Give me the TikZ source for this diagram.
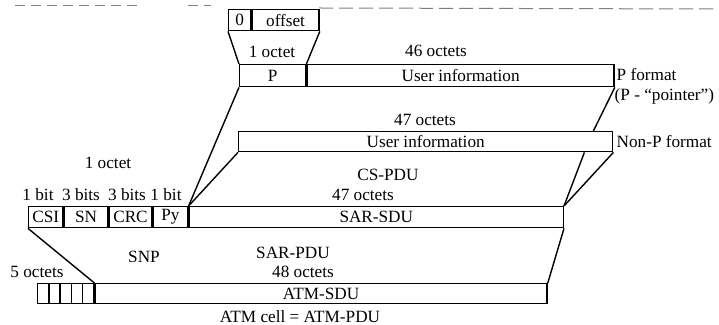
\documentclass[tikz,border=0pt]{standalone}
\usepackage{fontspec}
\setmainfont{Liberation Serif}
\tikzset{
  cell/.style={draw,inner sep=0pt,anchor=north west},
  lbl/.style={inner sep=1pt}
}
\begin{document}
\begin{tikzpicture}[x=0.5pt,y=-0.5pt,line width=0.7pt,
  every node/.style={font=\fontsize{8.6}{10}\selectfont}]
\useasboundingbox (0,0) rectangle (719,325);
% faint rule at the top of the scan
\draw[gray,line width=0.5pt,dash pattern=on 5pt off 3pt] (15,6) -- (140,6);
\draw[gray,line width=0.5pt,dash pattern=on 5pt off 3pt] (188,6) -- (211,6);
\draw[gray,line width=0.5pt,dash pattern=on 7pt off 3pt] (319,8) -- (719,9);
% pointer octet
\node[cell,minimum width=11pt,minimum height=10.5pt] (zero) at (228,9) {0};
\node[cell,minimum width=33.5pt,minimum height=10.5pt] (offset) at (zero.north east) {offset};
% P format
\node[cell,minimum width=33pt,minimum height=11pt] (p) at (239,64) {P};
\node[cell,minimum width=153.5pt,minimum height=11pt] (uinfo) at (p.north east) {User information};
% Non-P format
\node[cell,minimum width=187pt,minimum height=10pt] (nonp) at (238,131) {User information};
% SAR-PDU
\node[cell,minimum width=17pt,minimum height=10.5pt] (csi) at (28,206) {CSI};
\node[cell,minimum width=22pt,minimum height=10.5pt] (sn) at (csi.north east) {SN};
\node[cell,minimum width=21pt,minimum height=10.5pt] (crc) at (sn.north east) {CRC};
\node[cell,minimum width=17.5pt,minimum height=10.5pt] (py) at (crc.north east) {Py};
\node[cell,minimum width=187pt,minimum height=10.5pt] (sar) at (py.north east) {SAR-SDU};
% ATM cell
\foreach \i in {1,...,5}
  \node[cell,minimum width=5.6pt,minimum height=10pt] (c\i) at ({37+11.2*(\i-1)},283) {};
\node[cell,minimum width=226pt,minimum height=10pt] (atm) at (c5.north east) {ATM-SDU};
% connectors
\draw (zero.south west) -- (p.north west);
\draw (offset.south east) -- (p.north east);
\draw (p.south west) -- (py.north east);
\draw (nonp.south west) -- (py.north east);
\draw (uinfo.south east) -- ([xshift=-10pt]nonp.north east);
\draw (nonp.south east) -- (sar.north east);
\draw ([xshift=-14.5pt]nonp.south east) -- (sar.north east);
\draw (csi.south west) -- (c5.north east);
\draw (sar.south east) -- (atm.north east);
% labels
\node[lbl] (oct1) at (272,52) {1 octet};
\node[lbl] (oct46) at (436,51) {46 octets};
\node[lbl,anchor=west] (pfmt) at (614,75) {P format};
\node[lbl,anchor=west] (pptr) at (612,96) {(P - ``pointer'')};
\node[lbl] (oct47a) at (425,120) {47 octets};
\node[lbl,anchor=west] (npfmt) at (614,142) {Non-P format};
\node[lbl] (oct1b) at (108,163) {1 octet};
\node[lbl] (cspdu) at (388,175) {CS-PDU};
\node[lbl] (bcsi) at (38,195) {1 bit};
\node[lbl] (bsn) at (81,195) {3 bits};
\node[lbl] (bcrc) at (127,195) {3 bits};
\node[lbl] (bpy) at (166,195) {1 bit};
\node[lbl] (oct47b) at (363,195) {47 octets};
\node[lbl] (snp) at (144,257) {SNP};
\node[lbl] (sarpdu) at (293,253) {SAR-PDU};
\node[lbl] (oct5) at (37,272) {5 octets};
\node[lbl] (oct48) at (303,272) {48 octets};
\node[lbl] (atmpdu) at (300,317) {ATM cell = ATM-PDU};
\end{tikzpicture}
\end{document}
